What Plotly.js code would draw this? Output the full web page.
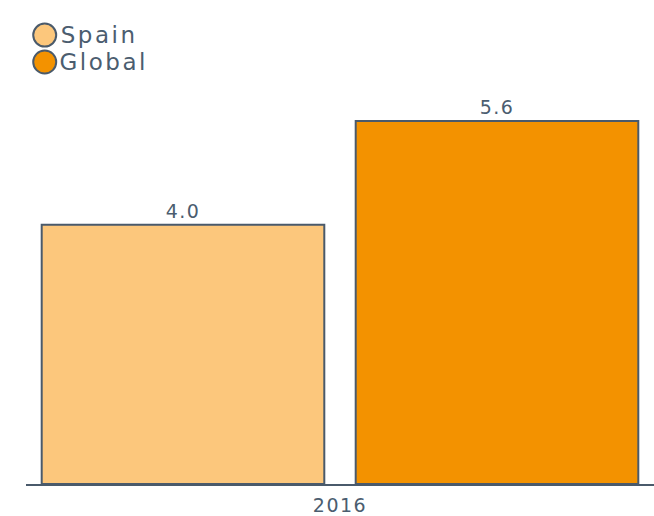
<!DOCTYPE html>
<html>
<head>
<meta charset="utf-8">
<script src="https://cdn.plot.ly/plotly-3.0.1.min.js"></script>
<style>
html, body { margin: 0; padding: 0; background: #fff; }
#chart { width: 654px; height: 516px; }
#chart svg text { letter-spacing: 1.5px; }
#chart svg .annotation text { letter-spacing: 2.5px; }
</style>
</head>
<body>
<div id="chart"></div>
<script>
const categories = ["2016"];
const seriesNames = ["Spain", "Global"];
const spainValues = [4.0];
const globalValues = [5.6];
const seriesColors = ["#FCC77C", "#F39200"];

const textColor = "#4b5d6f";
const lineColor = "#4a5a6b";
const fontFamily = "DejaVu Sans, Verdana, sans-serif";

const seriesValues = [spainValues, globalValues];

const traces = seriesNames.map((name, i) => ({
  type: "bar",
  name: name,
  x: categories,
  y: seriesValues[i],
  text: seriesValues[i].map(v => v.toFixed(1)),
  textposition: "outside",
  cliponaxis: false,
  textfont: { family: fontFamily, size: 19, color: textColor },
  marker: { color: seriesColors[i], line: { color: lineColor, width: 2 } },
  showlegend: false,
  hoverinfo: "none"
}));

// custom legend (circle markers + text)
const legendX = 0.0298;
const legendY = [1.169, 1.099];
const shapes = seriesNames.map((n, i) => ({
  type: "circle",
  xref: "paper", yref: "paper",
  xsizemode: "pixel", ysizemode: "pixel",
  xanchor: legendX, yanchor: legendY[i],
  x0: -11.5, x1: 11.5, y0: -11.5, y1: 11.5,
  fillcolor: seriesColors[i],
  line: { color: lineColor, width: 2 }
}));
const annotations = seriesNames.map((n, i) => ({
  text: n,
  xref: "paper", yref: "paper",
  x: 0.0644, y: legendY[i],
  xanchor: "left", yanchor: "middle",
  showarrow: false,
  borderpad: 0,
  font: { family: fontFamily, size: 23, color: textColor }
}));

const layout = {
  width: 654, height: 516,
  margin: { l: 26, r: 0, t: 100, b: 32 },
  paper_bgcolor: "#ffffff",
  plot_bgcolor: "#ffffff",
  barmode: "group",
  bargap: 0,
  bargroupgap: 0.1,
  showlegend: false,
  font: { family: fontFamily, color: textColor },
  xaxis: {
    type: "category",
    showline: true,
    linecolor: lineColor,
    linewidth: 2,
    showgrid: false,
    zeroline: false,
    ticks: "",
    ticklabelstandoff: 3,
    tickfont: { family: fontFamily, size: 19, color: textColor }
  },
  yaxis: {
    range: [0, 5.926],
    visible: false,
    showgrid: false,
    zeroline: false
  },
  shapes: shapes,
  annotations: annotations
};

Plotly.newPlot("chart", traces, layout, { displayModeBar: false, staticPlot: true });
</script>
</body>
</html>
